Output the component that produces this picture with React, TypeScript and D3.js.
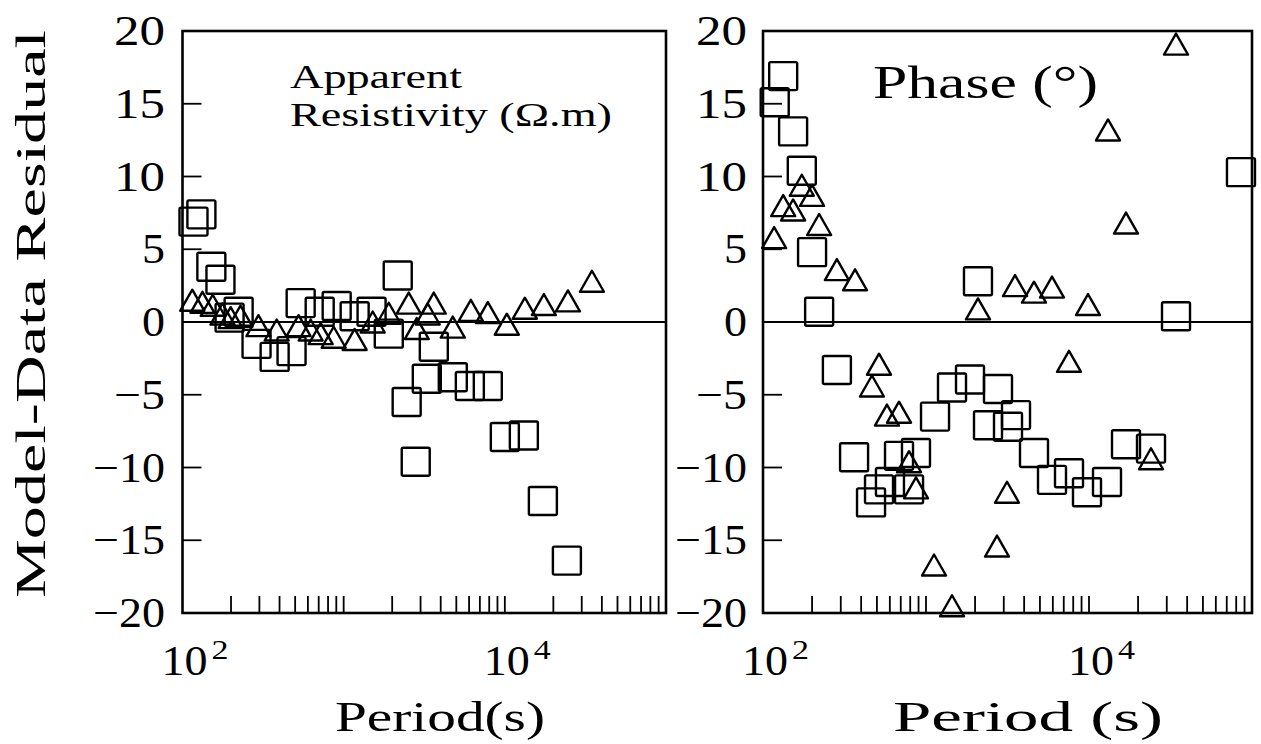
import React from 'react';
import * as d3 from 'd3';

const FONT = '"Liberation Serif", "Times New Roman", serif';

// ---- Apparent resistivity residuals ----
const rhoSquarePeriod = [117, 131, 151, 172, 196, 223, 288, 373, 475, 541, 710, 905, 1170, 1490, 1905, 2165, 2460, 2800, 3280, 3625, 4755, 6065, 7840, 10000, 13120, 17220, 24270];
const rhoSquareResidual = [6.9, 7.4, 3.8, 2.9, 0.3, 0.7, -1.5, -2.4, -2.0, 1.3, 0.7, 1.1, 0.4, 0.7, -0.8, 3.2, -5.5, -9.6, -3.9, -1.7, -3.8, -4.4, -4.4, -7.9, -7.8, -12.3, -16.4];
const rhoTrianglePeriod = [115, 133, 154, 177, 199, 229, 296, 384, 525, 624, 720, 867, 1170, 1514, 1904, 2533, 2841, 3324, 3622, 4753, 6150, 7844, 10290, 13310, 17470, 24630, 34710];
const rhoTriangleResidual = [1.5, 1.35, 1.15, 0.55, 0.3, 0.4, -0.25, -0.55, -0.25, -0.55, -0.8, -1.05, -1.2, 0.0, 0.6, 1.3, -0.45, 0.55, 1.3, -0.35, 0.8, 0.65, -0.15, 0.95, 1.2, 1.45, 2.8];

// ---- Phase residuals ----
const phaseSquarePeriod = [118, 133, 153, 173, 200, 221, 284, 362, 460, 515, 601, 683, 787, 868, 1136, 1444, 1862, 2084, 2401, 2765, 3185, 3566, 4598, 5929, 7539, 9721, 12895, 16866, 24010, 34180, 85580];
const phaseSquareResidual = [15.1, 16.9, 13.1, 10.4, 4.8, 0.7, -3.3, -9.3, -12.4, -11.5, -11.0, -9.2, -11.5, -9.0, -6.5, -4.5, -3.95, 2.8, -7.1, -4.6, -7.2, -6.4, -9.0, -10.85, -10.4, -11.7, -11.0, -8.4, -8.7, 0.4, 10.3];
const phaseTrianglePeriod = [117, 133, 153, 173, 200, 221, 284, 367, 466, 515, 576, 683, 787, 868, 1120, 1444, 2084, 2727, 3140, 3516, 4598, 5929, 7539, 9860, 13080, 16866, 24010, 34180];
const phaseTriangleResidual = [5.8, 8.0, 7.7, 9.4, 8.7, 6.7, 3.6, 2.9, -4.4, -2.9, -6.4, -6.2, -9.6, -11.4, -16.7, -19.5, 0.9, -15.4, -11.7, 2.5, 2.05, 2.4, -2.7, 1.2, 13.2, 6.8, -9.4, 19.1];

// ---- Axes ----
const yTickValues = [20, 15, 10, 5, 0, -5, -10, -15, -20];
const yTickLabels = ['20', '15', '10', '5', '0', '−5', '−10', '−15', '−20'];
const xDomain = [100, 100000];
const yDomain = [-20, 20];
const decadeLabelValues = [100, 10000];
const decadeExponents = ['2', '4'];

const SQ = 28;
const TW = 24;
const TH = 21;
const MARK_SW = 2.4;
const ADJ = 'spacingAndGlyphs';

const labelLen = (s: string) => (s.length === 1 ? 23 : s.length === 2 ? 51 : 72);

type PanelProps = {
  x0: number;
  x1: number;
  labelX: number;
  sqP: number[];
  sqV: number[];
  triP: number[];
  triV: number[];
  xTitle: string;
  xTitleX: number;
  xTitleLen: number;
  children?: React.ReactNode;
};

function Panel({ x0, x1, labelX, sqP, sqV, triP, triV, xTitle, xTitleX, xTitleLen, children }: PanelProps) {
  const x = d3.scaleLog().domain(xDomain).range([x0, x1]);
  const y = d3.scaleLinear().domain(yDomain).range([613, 31]);
  const yTop = y(20);
  const yBot = y(-20);
  const minor = x.ticks().filter((t) => t > xDomain[0] && t < xDomain[1]);

  const tri = (cx: number, cy: number) =>
    `M${cx},${cy - TH / 2}L${cx + TW / 2},${cy + TH / 2}L${cx - TW / 2},${cy + TH / 2}Z`;

  return (
    <g>
      <line x1={x0} x2={x1} y1={y(0)} y2={y(0)} stroke="#000" strokeWidth={2} />
      {minor.map((t, i) => (
        <line key={'xt' + i} x1={x(t)} x2={x(t)} y1={yBot} y2={yBot - 17} stroke="#000" strokeWidth={1.8} />
      ))}
      {yTickValues.slice(1, -1).map((v, i) => (
        <line key={'yt' + i} x1={x0} x2={x0 + 19} y1={y(v)} y2={y(v)} stroke="#000" strokeWidth={1.8} />
      ))}
      {sqP.map((p, i) => (
        <rect
          key={'s' + i}
          x={x(p) - SQ / 2}
          y={y(sqV[i]) - SQ / 2}
          width={SQ}
          height={SQ}
          rx={1.5}
          fill="none"
          stroke="#000"
          strokeWidth={MARK_SW}
        />
      ))}
      {triP.map((p, i) => (
        <path key={'t' + i} d={tri(x(p), y(triV[i]))} fill="none" stroke="#000" strokeWidth={MARK_SW} strokeLinejoin="round" />
      ))}
      <rect x={x0} y={yTop} width={x1 - x0} height={yBot - yTop} fill="none" stroke="#000" strokeWidth={2.6} />
      {yTickValues.map((v, i) => (
        <text
          key={'yl' + i}
          x={labelX}
          y={y(v) + 14}
          textAnchor="end"
          fontFamily={FONT}
          fontSize={42}
          textLength={labelLen(yTickLabels[i])}
          lengthAdjust={ADJ}
        >
          {yTickLabels[i]}
        </text>
      ))}
      {decadeLabelValues.map((v, i) => (
        <g key={'xl' + i}>
          <text
            x={x(v) + 2}
            y={675}
            textAnchor="middle"
            fontFamily={FONT}
            fontSize={42}
            textLength={46}
            lengthAdjust={ADJ}
          >
            10
          </text>
          <text x={x(v) + 29} y={659} fontFamily={FONT} fontSize={27} textLength={17} lengthAdjust={ADJ}>
            {decadeExponents[i]}
          </text>
        </g>
      ))}
      <text x={xTitleX} y={731} fontFamily={FONT} fontSize={42} textLength={xTitleLen} lengthAdjust={ADJ}>
        {xTitle}
      </text>
      {children}
    </g>
  );
}

export default function App() {
  return (
    <svg
      width={1261}
      height={744}
      viewBox="0 0 1261 744"
      style={{ position: 'absolute', left: 0, top: 0, background: '#fff' }}
    >
      <rect x={0} y={0} width={1261} height={744} fill="#fff" />
      <text
        transform="translate(45,314) rotate(-90)"
        textAnchor="middle"
        fontFamily={FONT}
        fontSize={42}
        textLength={568}
        lengthAdjust={ADJ}
      >
        Model-Data Residual
      </text>
      <Panel
        x0={182.5}
        x1={666}
        labelX={165}
        sqP={rhoSquarePeriod}
        sqV={rhoSquareResidual}
        triP={rhoTrianglePeriod}
        triV={rhoTriangleResidual}
        xTitle="Period(s)"
        xTitleX={335}
        xTitleLen={210}
      >
        <text x={290} y={88} fontFamily={FONT} fontSize={33} textLength={172} lengthAdjust={ADJ}>
          Apparent
        </text>
        <text x={290} y={126} fontFamily={FONT} fontSize={33} textLength={322} lengthAdjust={ADJ}>
          Resistivity (Ω.m)
        </text>
      </Panel>
      <Panel
        x0={763}
        x1={1252}
        labelX={747}
        sqP={phaseSquarePeriod}
        sqV={phaseSquareResidual}
        triP={phaseTrianglePeriod}
        triV={phaseTriangleResidual}
        xTitle="Period (s)"
        xTitleX={893}
        xTitleLen={270}
      >
        <text x={873} y={98} fontFamily={FONT} fontSize={46} textLength={225} lengthAdjust={ADJ}>
          Phase (°)
        </text>
      </Panel>
    </svg>
  );
}
